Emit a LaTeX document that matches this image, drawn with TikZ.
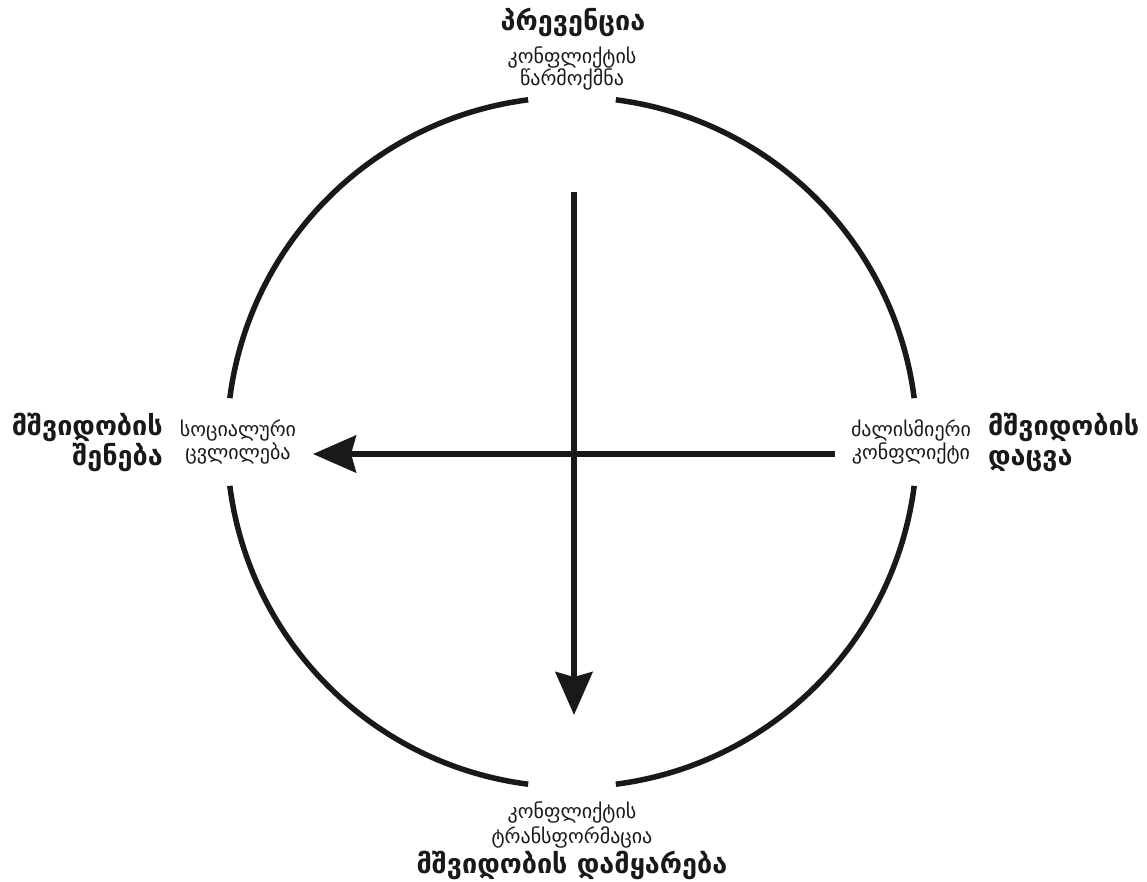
\documentclass[tikz,border=0pt]{standalone}
\usepackage{fontspec}
\newfontfamily\geo{DejaVu Sans}
\usetikzlibrary{arrows.meta,calc}
\tikzset{
  ring/.style={line width=5.5pt, line cap=butt, draw=black!90},
  flow/.style={line width=5.5pt, draw=black!90, -{Stealth[length=43pt, width=37pt, inset=5pt]}},
  big/.style={font=\geo\bfseries\fontsize{27}{32}\selectfont, inner sep=0pt, text=black!90},
  small/.style={font=\geo\fontsize{20}{24}\selectfont, inner sep=0pt, text=black!90}
}
\begin{document}
\begin{tikzpicture}[x=1pt,y=-1pt]
\useasboundingbox (0,0) rectangle (1147,881);
\coordinate (c) at (572,442);
% circle in four arcs
\foreach \a in {0,90,180,270}{
  \draw[ring] ([shift={(\a+7.3:345)}]c) arc[start angle=\a+7.3, end angle=\a+82.7, radius=345];
}
% arrows
\coordinate (vtop) at (574,192);
\coordinate (vbot) at (574,715);
\coordinate (hr) at (835,454);
\coordinate (hl) at (313,454);
\draw[flow] (vtop) -- (vbot);
\draw[flow] (hr) -- (hl);
% top
\node[big, anchor=base] (prev) at (573,30) {პრევენცია};
\node[small, anchor=base] (t1) at (572,63) {კონფლიქტის};
\node[small, anchor=base] (t2) at (572,85) {წარმოქმნა};
% left
\node[big, anchor=base east] (l1) at (163,435) {მშვიდობის};
\node[big, anchor=base east] (l2) at (163,465) {შენება};
\node[small, anchor=base] (ls1) at (238,436) {სოციალური};
\node[small, anchor=base] (ls2) at (238,459) {ცვლილება};
% right
\node[small, anchor=base] (rs1) at (911,436) {ძალისმიერი};
\node[small, anchor=base] (rs2) at (911,459) {კონფლიქტი};
\node[big, anchor=base west] (r1) at (988,435) {მშვიდობის};
\node[big, anchor=base west] (r2) at (988,465) {დაცვა};
% bottom
\node[small, anchor=base] (b1) at (572,818) {კონფლიქტის};
\node[small, anchor=base] (b2) at (572,843) {ტრანსფორმაცია};
\node[big, anchor=base] (b3) at (572,873) {მშვიდობის დამყარება};
\end{tikzpicture}
\end{document}
